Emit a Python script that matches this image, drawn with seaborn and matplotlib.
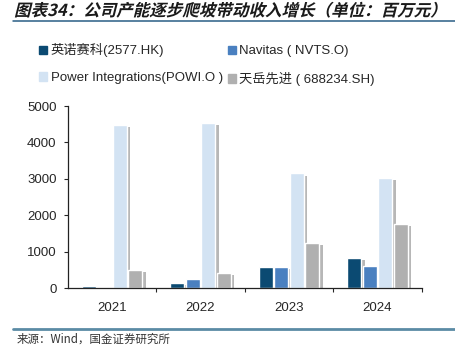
import pandas as pd
import matplotlib
matplotlib.use('Agg')
import matplotlib.pyplot as plt
import matplotlib.patheffects as pe
from matplotlib.lines import Line2D
from matplotlib.patches import Rectangle, PathPatch
from matplotlib.textpath import TextPath
from matplotlib.font_manager import FontProperties
from matplotlib.transforms import Affine2D, IdentityTransform
import seaborn as sns

# datos (millones de yuanes)
years = ['2021', '2022', '2023', '2024']
companies = ['英诺赛科(2577.HK)', 'Navitas ( NVTS.O)',
             'Power Integrations(POWI.O )', '天岳先进 ( 688234.SH)']
innoscience = [68, 136, 593, 829]
navitas = [0, 265, 575, 603]
powi = [4490, 4545, 3150, 3023]
sicc = [494, 417, 1251, 1768]
colores = ['#0B4A72', '#4A80C0', '#D3E3F3', '#B0B0B0']
titulo = '图表34：公司产能逐步爬坡带动收入增长（单位：百万元）'
fuente = '来源：Wind，国金证券研究所'

sns.set_style('white')
plt.rcParams['font.family'] = ['Liberation Sans', 'Noto Sans CJK SC']

df = pd.DataFrame({
    'year': years * 4,
    'company': [c for c in companies for _ in years],
    'value': innoscience + navitas + powi + sicc,
})

fig = plt.figure(figsize=(4.56, 3.57), dpi=100)
ax = fig.add_axes([0.1485, 0.1924, 0.7765, 0.5106])

sns.barplot(data=df, x='year', y='value', hue='company', hue_order=companies,
            order=years, palette=colores, width=0.7, gap=0.1, ax=ax,
            saturation=1, legend=False)

# sombra de las barras
for p in ax.patches:
    p.set_path_effects([pe.SimplePatchShadow(offset=(2.5, -1.5), shadow_rgbFace='#707070', alpha=0.5),
                        pe.Normal()])

ax.set_xlim(-0.5, 3.5)
ax.set_ylim(0, 5000)
ax.set_yticks([0, 1000, 2000, 3000, 4000, 5000])
ax.set_xlabel('')
ax.set_ylabel('')
for s in ['top', 'right']:
    ax.spines[s].set_visible(False)
for s in ['left', 'bottom']:
    ax.spines[s].set_color('#222222')
    ax.spines[s].set_linewidth(0.9)
ax.tick_params(axis='y', direction='out', length=3, width=0.8, pad=5, labelsize=9.5, left=True)
ax.tick_params(axis='x', which='major', length=0, pad=10, labelsize=9.5)
ax.set_xticks([0.5, 1.5, 2.5, 3.5], minor=True)
ax.tick_params(axis='x', which='minor', direction='out', length=3, width=0.8, bottom=True)

# leyenda en dos columnas
handles = [Rectangle((0, 0), 1, 1, color=c) for c in colores]
orden = [0, 2, 1, 3]
fig.legend([handles[i] for i in orden], [companies[i] for i in orden], ncol=2,
           loc='upper left', bbox_to_anchor=(0.075, 0.893), frameon=False,
           fontsize=9.5, handlelength=0.6, handleheight=0.6, handletextpad=0.25,
           columnspacing=0.4, labelspacing=1.1, borderaxespad=0)

# titulo en cursiva (la fuente CJK no trae italica, se inclina a mano)
fp = FontProperties(family=['Noto Sans CJK SC'], weight='bold', size=11.9)
tp = TextPath((0, 0), titulo, prop=fp)
tr = Affine2D().skew_deg(14, 0).scale(100 / 72).translate(14, 357 - 16)
fig.add_artist(PathPatch(tp, transform=tr + IdentityTransform(), color='#1a1a1a', lw=0))

fig.add_artist(Line2D([0.029, 1.0], [1 - 21 / 357] * 2, color='#2A5E85', lw=1.1))
fig.add_artist(Line2D([0.029, 1.0], [1 - 329 / 357] * 2, color='#5B8BA5', lw=2.0))
fig.text(0.037, 1 - 339 / 357, fuente, fontsize=8.3,
         color='#333333', va='center', ha='left', family=['Noto Sans CJK SC'])

fig.savefig('out.png', dpi=100)
plt.close(fig)
